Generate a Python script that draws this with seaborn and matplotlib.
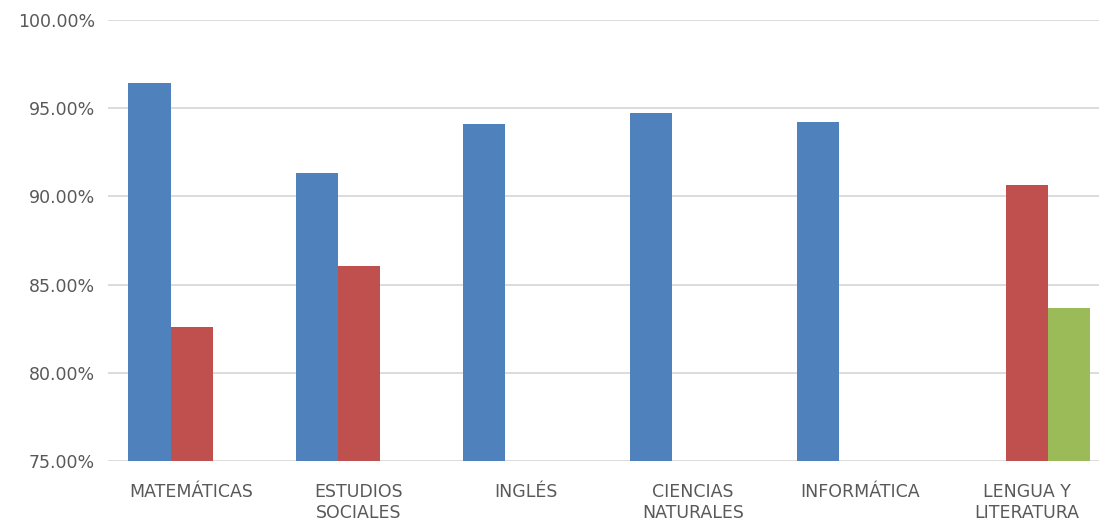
import matplotlib
matplotlib.use("Agg")
import matplotlib.pyplot as plt
from matplotlib.ticker import FuncFormatter, MultipleLocator
import seaborn as sns
import numpy as np
import pandas as pd

# values (percent); NaN = no bar
categorias = ["MATEMÁTICAS", "ESTUDIOS\nSOCIALES", "INGLÉS",
              "CIENCIAS\nNATURALES", "INFORMÁTICA", "LENGUA Y\nLITERATURA"]
serie_1 = [96.43, 91.33, 94.10, 94.73, 94.20, np.nan]
serie_2 = [82.60, 86.05, np.nan, np.nan, np.nan, 90.65]
serie_3 = [np.nan, np.nan, np.nan, np.nan, np.nan, 83.67]
series = ["Serie 1", "Serie 2", "Serie 3"]
colores = ["#4F81BD", "#C0504D", "#9BBB59"]

df = pd.DataFrame({
    "categoria": categorias * 3,
    "serie": [s for s in series for _ in categorias],
    "valor": serie_1 + serie_2 + serie_3,
})

sns.set_theme(style="white")
plt.rcParams['font.family'] = ['DejaVu Sans']

fig = plt.figure(figsize=(10.99, 5.28), dpi=100)
ax = fig.add_axes([0.0983, 0.127, 0.912, 0.835])

sns.barplot(data=df, x="categoria", y="valor", hue="serie", order=categorias,
            hue_order=series, palette=colores, width=0.755, saturation=1,
            linewidth=0, legend=False, ax=ax)

ax.set_ylim(75, 100)
ax.yaxis.set_major_locator(MultipleLocator(5))
ax.yaxis.set_major_formatter(FuncFormatter(lambda v, _: f"{v:.2f}%"))
ax.grid(axis="y", color="#D9D9D9", linewidth=1.3)
ax.set_axisbelow(True)
for s in ax.spines.values():
    s.set_visible(False)
ax.set_xlabel("")
ax.set_ylabel("")
ax.tick_params(axis="both", length=0, labelsize=12.5, colors="#595959")
ax.tick_params(axis="y", pad=9.5)
ax.tick_params(axis="x", pad=16)

fig.savefig("out.png", dpi=100)
